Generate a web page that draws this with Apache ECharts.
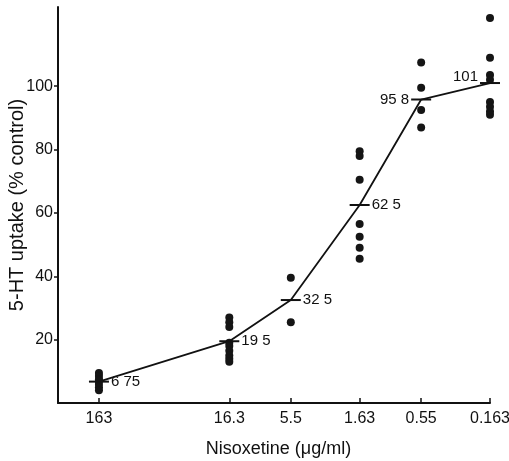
<!DOCTYPE html>
<html>
<head>
<meta charset="utf-8">
<script src="https://cdn.jsdelivr.net/npm/echarts@6/dist/echarts.min.js"></script>
<style>
  html, body { margin: 0; padding: 0; background: #fff; }
  #chart { width: 509px; height: 461px; }
</style>
</head>
<body>
<div id="chart"></div>
<script>
// nisoxetine doses (ug/ml), plotted on a reversed log scale
const doses = [163, 16.3, 5.5, 1.63, 0.55, 0.163];
const doseLabels = ['163', '16.3', '5.5', '1.63', '0.55', '0.163'];
const axisLeftDose = 336; // left end of the x axis

// individual measurements, % control
const uptake163 = [9.5, 8.5, 7.5, 7, 6, 5, 4];
const uptake16_3 = [27, 25.5, 24, 19, 18, 16.5, 15, 14, 13];
const uptake5_5 = [39.5, 25.5];
const uptake1_63 = [79.5, 78, 70.5, 56.5, 52.5, 49, 45.5];
const uptake0_55 = [107.5, 99.5, 92.5, 87];
const uptake0_163 = [121.5, 109, 103.5, 102, 95, 93.5, 92, 91];

// means
const meanUptake = [6.75, 19.5, 32.5, 62.5, 95.8, 101];
const meanLabels = ['6 75', '19 5', '32 5', '62 5', '95 8', '101'];

const yTicks = [20, 40, 60, 80, 100];

const allUptake = [uptake163, uptake16_3, uptake5_5, uptake1_63, uptake0_55, uptake0_163];
const xPos = doses.map(d => Math.log10(d));

const dots = [];
allUptake.forEach((vals, i) => {
    vals.forEach(v => dots.push([xPos[i], v]));
});
const meanPts = meanUptake.map((v, i) => [xPos[i], v]);

function doseLabel(val) {
    for (let i = 0; i < xPos.length; i++) {
        if (Math.abs(xPos[i] - val) < 1e-6) return doseLabels[i];
    }
    return '';
}

const chart = echarts.init(document.getElementById('chart'));
const font = 'Liberation Sans';

var option = {
    backgroundColor: '#ffffff',
    animation: false,
    grid: { left: 58, right: 19, top: 7, bottom: 58, outerBoundsMode: 'none', containLabel: false },
    xAxis: {
        type: 'value',
        inverse: true,
        min: Math.log10(doses[doses.length - 1]),
        max: Math.log10(axisLeftDose),
        name: 'Nisoxetine (μg/ml)',
        nameLocation: 'middle',
        nameGap: 37,
        nameMoveOverlap: false,
        nameTextStyle: { color: '#111', fontSize: 18, fontFamily: font, padding: [0, 0, 0, 9] },
        splitLine: { show: false },
        axisLine: { onZero: false, lineStyle: { color: '#111', width: 2 } },
        axisTick: { inside: true, length: 5, customValues: xPos, lineStyle: { color: '#111', width: 1.5 } },
        axisLabel: {
            customValues: xPos,
            formatter: doseLabel,
            color: '#111', fontSize: 16, fontFamily: font, margin: 8
        }
    },
    yAxis: {
        type: 'value',
        min: 0,
        max: 125,
        name: '5-HT uptake (% control)',
        nameLocation: 'middle',
        nameGap: 31,
        nameMoveOverlap: false,
        nameTextStyle: { color: '#111', fontSize: 20, fontFamily: font },
        splitLine: { show: false },
        axisLine: { onZero: false, lineStyle: { color: '#111', width: 2 } },
        axisTick: { length: 4, customValues: yTicks, lineStyle: { color: '#111', width: 1.5 } },
        axisLabel: {
            customValues: yTicks,
            color: '#111', fontSize: 16, fontFamily: font, margin: 5
        }
    },
    series: [{
        type: 'scatter',
        data: dots,
        symbol: 'circle',
        symbolSize: 8,
        itemStyle: { color: '#151515', opacity: 1 },
        z: 3
    }, {
        type: 'line',
        data: meanPts,
        showSymbol: false,
        lineStyle: { color: '#111', width: 1.8 },
        z: 2
    }, {
        type: 'scatter',
        symbol: 'rect',
        symbolSize: [20, 2],
        itemStyle: { color: '#111', opacity: 1 },
        label: {
            show: true,
            formatter: p => meanLabels[p.dataIndex],
            position: 'right',
            distance: 2,
            color: '#111',
            fontSize: 15,
            fontFamily: font
        },
        z: 4
    }]
};

// last two mean labels sit on the left of their marks
option.series[2].data = meanPts.map((p, i) => {
    if (i >= 4) {
        return { value: p, label: { position: 'left', offset: i === 5 ? [0, -6] : [0, 0] } };
    }
    return { value: p };
});

chart.setOption(option, true);
</script>
</body>
</html>
